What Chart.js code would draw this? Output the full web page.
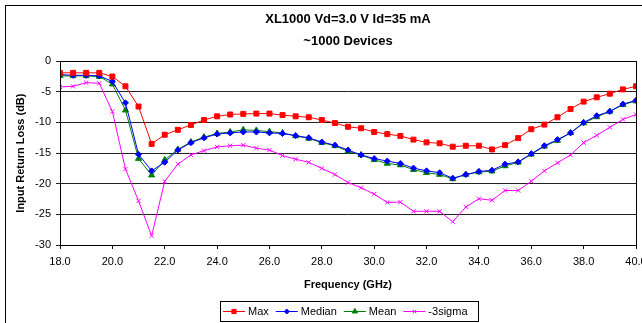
<!DOCTYPE html>
<html>
<head>
<meta charset="utf-8">
<script src="https://cdn.jsdelivr.net/npm/chart.js@4/dist/chart.umd.min.js"></script>
<style>
  html, body { margin: 0; padding: 0; background: #fff; }
  #wrap { width: 642px; height: 323px; position: relative; }
</style>
</head>
<body>
<div id="wrap"><canvas id="myCanvas"></canvas></div>
<script>
const FONT = "Arial, 'Liberation Sans', sans-serif";

// frequency points (GHz)
const freqs = [
  18.0, 18.5, 19.0, 19.5, 20.0, 20.5, 21.0, 21.5, 22.0, 22.5, 23.0, 23.5,
  24.0, 24.5, 25.0, 25.5, 26.0, 26.5, 27.0, 27.5, 28.0, 28.5, 29.0, 29.5,
  30.0, 30.5, 31.0, 31.5, 32.0, 32.5, 33.0, 33.5, 34.0, 34.5, 35.0, 35.5,
  36.0, 36.5, 37.0, 37.5, 38.0, 38.5, 39.0, 39.5, 40.0,
];

const maxVals = [
  -1.9, -1.9, -1.9, -1.9, -2.5, -4.1, -7.4, -13.5, -12.0, -11.2, -10.4, -9.6,
  -9.0, -8.7, -8.6, -8.55, -8.55, -8.8, -9.0, -9.15, -9.6, -10.1, -10.7, -10.95,
  -11.55, -11.9, -12.2, -12.8, -13.25, -13.4, -13.95, -13.8, -13.8, -14.4, -13.7, -12.55,
  -11.1, -10.35, -9.15, -7.8, -6.6, -5.9, -5.3, -4.6, -4.1,
];

const medianVals = [
  -2.2, -2.3, -2.3, -2.4, -3.3, -6.8, -15.2, -17.9, -16.5, -14.5, -13.3, -12.5,
  -11.9, -11.7, -11.55, -11.55, -11.7, -11.8, -12.15, -12.5, -13.2, -13.7, -14.5, -15.3,
  -15.9, -16.3, -16.7, -17.45, -17.9, -18.2, -19.1, -18.5, -18.0, -17.8, -16.8, -16.45,
  -15.1, -13.8, -12.8, -11.7, -10.0, -8.9, -8.2, -7.0, -6.4,
];

const meanVals = [
  -2.4, -2.4, -2.4, -2.5, -3.75, -8.0, -15.9, -18.6, -16.1, -14.4, -13.2, -12.4,
  -11.8, -11.55, -11.2, -11.3, -11.5, -11.7, -12.2, -12.6, -13.3, -13.8, -14.7, -15.3,
  -16.1, -16.7, -16.95, -17.7, -18.2, -18.5, -19.2, -18.5, -18.1, -17.95, -17.1, -16.5,
  -15.2, -13.9, -12.95, -11.7, -10.1, -9.1, -8.2, -7.1, -6.5,
];

const sigmaVals = [
  -4.2, -4.1, -3.5, -3.6, -8.2, -17.6, -22.8, -28.5, -19.6, -16.8, -15.3, -14.6,
  -14.0, -13.8, -13.7, -14.2, -14.5, -15.4, -16.0, -16.5, -17.5, -18.5, -19.8, -20.65,
  -21.7, -23.05, -23.0, -24.5, -24.5, -24.5, -26.2, -23.8, -22.45, -22.7, -21.1, -21.1,
  -19.6, -17.9, -16.6, -15.3, -13.3, -12.1, -10.8, -9.5, -8.7,
];

const titleLines = ["XL1000 Vd=3.0 V Id=35 mA", "~1000 Devices"];
const xTitle = "Frequency (GHz)";
const yTitle = "Input Return Loss (dB)";

const toPoints = (vals) => vals.map((v, i) => ({ x: freqs[i], y: v }));

const series = (label, vals, color, pointStyle, radius) => ({
  label,
  data: toPoints(vals),
  borderColor: color,
  backgroundColor: color,
  pointBackgroundColor: color,
  pointBorderColor: color,
  borderWidth: 1,
  pointBorderWidth: 1,
  pointStyle,
  pointRadius: radius,
  showLine: true,
  tension: 0,
});

const data = {
  datasets: [
    series("Max", maxVals, "#ff0000", "rect", 3.5),
    series("Median", medianVals, "#0000ff", "rectRot", 3),
    series("Mean", meanVals, "#008000", "triangle", 3.5),
    series("-3sigma", sigmaVals, "#ff00ff", "crossRot", 3),
  ],
};

// outer frame, plot border and the Excel-like legend box
const framePlugin = {
  id: "frame",
  beforeDraw(chart) {
    const ctx = chart.ctx;
    ctx.save();
    ctx.strokeStyle = "#000";
    ctx.lineWidth = 1;
    ctx.strokeRect(5.5, 5.5, 700, 400);
    ctx.restore();
  },
  afterDraw(chart) {
    const ctx = chart.ctx;
    const a = chart.chartArea;
    ctx.save();
    ctx.strokeStyle = "#000";
    ctx.lineWidth = 1;
    ctx.strokeRect(Math.round(a.left) + 0.5, Math.round(a.top) + 0.5,
      Math.round(a.right - a.left), Math.round(a.bottom - a.top));

    // legend
    const box = { x: 220.5, y: 301.5, w: 258, h: 20 };
    ctx.strokeRect(box.x, box.y, box.w, box.h);
    ctx.font = "11px " + FONT;
    ctx.textBaseline = "middle";
    ctx.fillStyle = "#000";
    let x = 223;
    const cy = box.y + box.h / 2;
    chart.data.datasets.forEach((ds, i) => {
      const meta = chart.getDatasetMeta(i);
      ctx.strokeStyle = ds.borderColor;
      ctx.lineWidth = 1;
      ctx.beginPath();
      ctx.moveTo(x, cy);
      ctx.lineTo(x + 22, cy);
      ctx.stroke();
      ctx.fillStyle = ds.backgroundColor;
      Chart.helpers.drawPoint(ctx, {
        pointStyle: ds.pointStyle,
        radius: ds.pointRadius - 0.5,
        borderWidth: 1,
        rotation: 0,
      }, x + 11, cy);
      ctx.fillStyle = "#000";
      ctx.fillText(ds.label, x + 25, cy);
      x += 25 + ctx.measureText(ds.label).width + 7;
    });
    ctx.restore();
  },
};

new Chart(document.getElementById("myCanvas"), {
  type: "scatter",
  data,
  plugins: [framePlugin],
  options: {
    responsive: true,
    maintainAspectRatio: false,
    animation: false,
    layout: { padding: { left: 0, top: 0, right: 6, bottom: 27 } },
    plugins: {
      legend: { display: false },
      tooltip: { enabled: false },
      title: {
        display: true,
        text: titleLines,
        fullSize: false,
        color: "#000",
        font: { family: FONT, size: 13, weight: "bold", lineHeight: 1.7 },
        padding: { top: 8, bottom: 9 },
      },
    },
    scales: {
      x: {
        type: "linear",
        min: 18,
        max: 40,
        afterFit(scale) {
          scale.height = 51;
          scale.paddingLeft = 0;
          scale.paddingRight = 0;
        },
        ticks: {
          stepSize: 2,
          padding: 6,
          color: "#000",
          maxRotation: 0,
          font: { family: FONT, size: 11 },
          callback: (v) => v.toFixed(1),
        },
        grid: {
          drawOnChartArea: false,
          drawTicks: true,
          tickLength: 4,
          color: "#000",
        },
        border: { color: "#000" },
        title: {
          display: true,
          text: xTitle,
          color: "#000",
          font: { family: FONT, size: 11, weight: "bold" },
          padding: { top: 0, bottom: 4 },
        },
      },
      y: {
        min: -30,
        max: 0,
        afterFit(scale) {
          scale.width = 60;
          scale.paddingTop = 0;
          scale.paddingBottom = 0;
        },
        ticks: {
          stepSize: 5,
          padding: 5,
          color: "#000",
          font: { family: FONT, size: 11 },
        },
        grid: {
          color: "#222",
          tickLength: 4,
        },
        border: { color: "#000" },
        title: {
          display: true,
          text: yTitle,
          color: "#000",
          font: { family: FONT, size: 11, weight: "bold" },
          padding: { top: 14, bottom: 0 },
        },
      },
    },
  },
});
</script>
</body>
</html>
